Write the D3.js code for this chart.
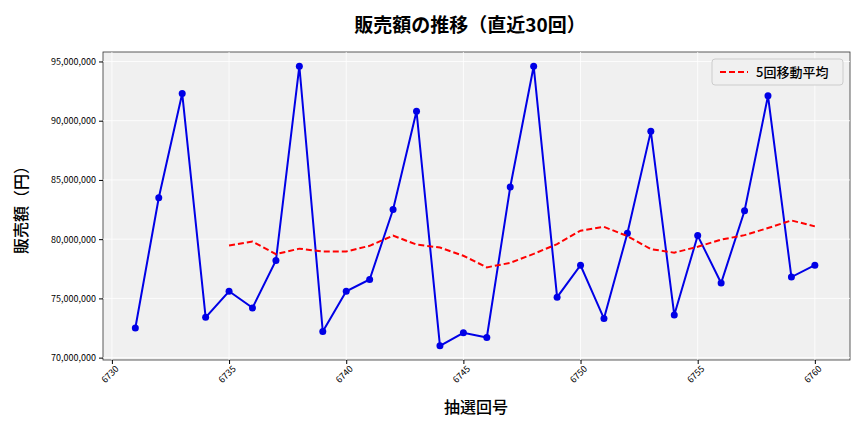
<!DOCTYPE html>
<html><head><meta charset="utf-8">
<script src="https://cdn.jsdelivr.net/npm/d3@7"></script>
<style>body{margin:0;background:#fff}text{font-family:"Noto Sans CJK JP","Noto Sans",sans-serif}</style>
</head><body><svg id="c" width="864" height="432"></svg>
<script>
const draws = d3.range(6731, 6761);
const sales = [72.5,83.5,92.3,73.4,75.6,74.2,78.2,94.6,72.2,75.6,76.6,82.5,90.8,71.0,72.1,71.7,84.4,94.6,75.1,77.8,73.3,80.5,89.1,73.6,80.3,76.3,82.4,92.1,76.8,77.8].map(v=>v*1e6);
const xTicks = [6730,6735,6740,6745,6750,6755,6760];
const yTicks = [70,75,80,85,90,95].map(v=>v*1e6);
const ma = sales.map((v,i)=> i<4?null: d3.mean(sales.slice(i-4,i+1)));

const svg = d3.select("#c");
const L=103,R=850,T=52,B=360;
const x = d3.scaleLinear().domain([6729.62,6761.5]).range([L,R]);
const y = d3.scaleLinear().domain([69.8e6,95.8e6]).range([B,T]);
svg.append("rect").attr("x",L).attr("y",T).attr("width",R-L).attr("height",B-T).attr("fill","#f0f0f0").attr("stroke","#333").attr("stroke-width",0.8);
const g=svg.append("g");
xTicks.forEach(t=>g.append("line").attr("x1",x(t)).attr("x2",x(t)).attr("y1",T).attr("y2",B).attr("stroke","#fff").attr("stroke-width",0.8));
yTicks.forEach(t=>g.append("line").attr("x1",L).attr("x2",R).attr("y1",y(t)).attr("y2",y(t)).attr("stroke","#fff").attr("stroke-width",0.8));
svg.append("g").attr("transform",`translate(0,${B})`).call(d3.axisBottom(x).tickValues(xTicks).tickFormat(d3.format("d")).tickSize(4))
 .call(a=>a.select(".domain").remove())
 .selectAll("text").attr("font-size",9).attr("text-anchor","end").attr("transform","rotate(-45)").attr("dx","-0.2em").attr("dy","0.5em");
svg.append("g").attr("transform",`translate(${L},0)`).call(d3.axisLeft(y).tickValues(yTicks).tickFormat(d3.format(",")).tickSize(4))
 .call(a=>a.select(".domain").remove()).selectAll("text").attr("font-size",9);
const line=d3.line().x((d,i)=>x(draws[i])).y(d=>y(d));
svg.append("path").attr("d",line(sales)).attr("fill","none").attr("stroke","#0000e6").attr("stroke-width",2);
svg.selectAll(".pt").data(sales).enter().append("circle").attr("cx",(d,i)=>x(draws[i])).attr("cy",d=>y(d)).attr("r",3.5).attr("fill","#0000e6");
svg.append("path").attr("d",line.defined(d=>d!=null)(ma)).attr("fill","none").attr("stroke","#f00").attr("stroke-width",2).attr("stroke-dasharray","6,3");
svg.append("rect").attr("x",712).attr("y",59).attr("width",131).attr("height",26).attr("fill","#f0f0f0").attr("stroke","#ccc").attr("rx",3);
svg.append("line").attr("x1",720).attr("x2",748).attr("y1",72).attr("y2",72).attr("stroke","#f00").attr("stroke-width",2).attr("stroke-dasharray","6,3");
svg.append("text").attr("x",756).attr("y",77).attr("font-size",13).attr("font-weight",500).text("5回移動平均");
svg.append("text").attr("x",470).attr("y",32).attr("text-anchor","middle").attr("font-size",19).attr("font-weight","bold").text("販売額の推移（直近30回）");
svg.append("text").attr("x",476).attr("y",413).attr("text-anchor","middle").attr("font-size",16).attr("font-weight",500).text("抽選回号");
svg.append("text").attr("transform","translate(27,206) rotate(-90)").attr("text-anchor","middle").attr("font-size",16).attr("font-weight",500).text("販売額（円）");
</script></body></html>
